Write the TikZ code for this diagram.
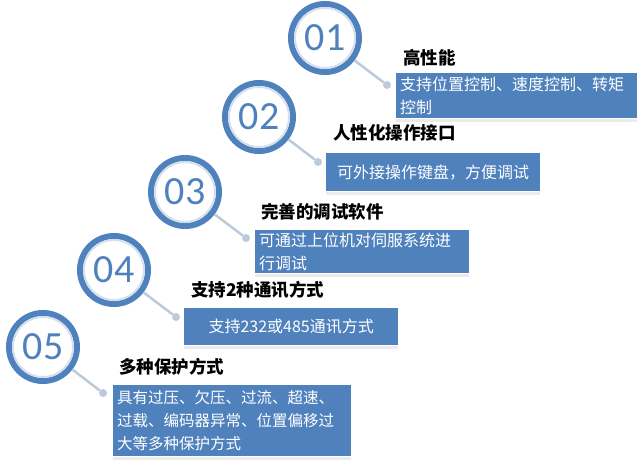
\documentclass[tikz,border=0pt]{standalone}
\usepackage{fontspec}
\setmainfont{Carlito}
\newfontfamily\cjk{Noto Sans CJK SC}
\definecolor{ringblue}{HTML}{4F81BD}
\definecolor{ringlight}{HTML}{D5E0EE}
\definecolor{linegray}{HTML}{BDCADB}
\tikzset{
 ring/.style={circle, draw=ringblue, line width=6pt, minimum size=68pt, inner sep=0pt, text=ringblue, font=\fontsize{40}{40}\selectfont},
 dotn/.style={circle, fill=linegray, minimum size=8pt, inner sep=0pt},
 conn/.style={draw=linegray, line width=2.5pt},
 titlen/.style={anchor=west, inner sep=0pt, font=\cjk\bfseries\fontsize{17.5}{20}\selectfont},
 box/.style={fill=ringblue, text=white, anchor=north west, inner xsep=4pt, inner ysep=0pt, font=\cjk\fontsize{16}{23.5}\selectfont},
 shadowb/.style={fill=black!8},
}
\begin{document}
\begin{tikzpicture}[x=1pt,y=-1pt]
\path[use as bounding box, fill=white] (0,0) rectangle (640,465);

% circles
\node[ring] (c1) at (325,38) {01};
\node[ring] (c2) at (259,117) {02};
\node[ring] (c3) at (185,192) {03};
\node[ring] (c4) at (114,270) {04};
\node[ring] (c5) at (43,347) {05};
\foreach \c in {c1,c2,c3,c4,c5}{
  \draw[ringlight, line width=2pt] (\c.center) circle (30);
}

% dots
\node[dotn] (d1) at (387,85) {};
\node[dotn] (d2) at (318,162) {};
\node[dotn] (d3) at (246,238) {};
\node[dotn] (d4) at (176,317) {};
\node[dotn] (d5) at (103,393) {};

\draw[conn] (c1) -- (d1);
\draw[conn] (c2) -- (d2);
\draw[conn] (c3) -- (d3);
\draw[conn] (c4) -- (d4);
\draw[conn] (c5) -- (d5);

% titles
\node[titlen] (t1) at (403,58) {高性能};
\node[titlen] (t2) at (333,133) {人性化操作接口};
\node[titlen] (t3) at (261,212) {完善的调试软件};
\node[titlen] (t4) at (191,290) {支持2种通讯方式};
\node[titlen] (t5) at (119,367) {多种保护方式};

% boxes
\node[box, text width=233pt, minimum height=45pt, align=left] (b1) at (396,73)
  {支持位置控制、速度控制、转矩\\控制};
\node[box, text width=206pt, minimum height=38pt, align=center] (b2) at (326,153)
  {可外接操作键盘，方便调试};
\node[box, text width=206pt, minimum height=43pt, align=left] (b3) at (255,230)
  {可通过上位机对伺服系统进\\行调试};
\node[box, text width=206pt, minimum height=37pt, align=center] (b4) at (184,308)
  {支持232或485通讯方式};
\node[box, text width=230pt, minimum height=71pt, align=left, font=\cjk\fontsize{15.5}{23}\selectfont] (b5) at (113,385)
  {具有过压、欠压、过流、超速、\\过载、编码器异常、位置偏移过\\大等多种保护方式};

\foreach \b in {b1,b2,b3,b4,b5}{
  \fill[shadowb] ([yshift=-1pt]\b.south west) rectangle ([yshift=-4pt]\b.south east);
}
\end{tikzpicture}
\end{document}
